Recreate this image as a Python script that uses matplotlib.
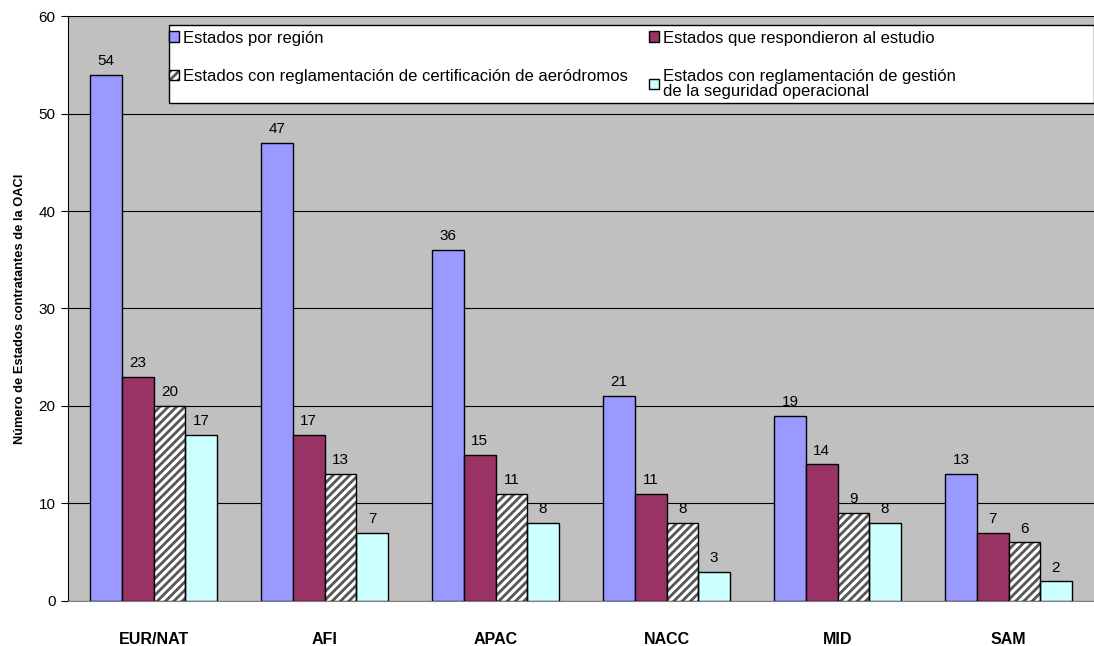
import matplotlib
matplotlib.use('Agg')
import matplotlib.pyplot as plt
from matplotlib.patches import Rectangle
import numpy as np

# ---------- datos ----------
regiones = ['EUR/NAT', 'AFI', 'APAC', 'NACC', 'MID', 'SAM']
por_region = [54, 47, 36, 21, 19, 13]
respondieron = [23, 17, 15, 11, 14, 7]
cert_aerodromos = [20, 13, 11, 8, 9, 6]
gestion_seguridad = [17, 7, 8, 3, 8, 2]

series_nombres = [
    'Estados por región',
    'Estados que respondieron al estudio',
    'Estados con reglamentación de certificación de aeródromos',
    'Estados con reglamentación de gestión\nde la seguridad operacional',
]
colores = ['#9999FF', '#993366', 'white', '#CCFFFF']

plt.rcParams['font.family'] = ['Liberation Sans', 'DejaVu Sans']
plt.rcParams['hatch.linewidth'] = 2.0

fig = plt.figure(figsize=(10.94, 6.46), dpi=100)
ax = fig.add_axes([0.0622, 0.0697, 0.9378, 0.9055])
ax.set_facecolor('#C0C0C0')

x = np.arange(len(regiones))
ancho = 0.185
datos = [por_region, respondieron, cert_aerodromos, gestion_seguridad]
handles = []
for i, vals in enumerate(datos):
    pos = x + (i - 1.5) * ancho
    if i == 2:
        # rayado gris: se dibuja aparte y luego el contorno negro
        h = ax.bar(pos, vals, width=ancho, color='white', edgecolor='#555555',
                   linewidth=0, hatch='////', zorder=3)
        o = ax.bar(pos, vals, width=ancho, fill=False, edgecolor='black',
                   linewidth=1.0, zorder=3.1)
        handles.append((h[0], o[0]))
    else:
        b = ax.bar(pos, vals, width=ancho, color=colores[i], edgecolor='black',
                   linewidth=1.0, zorder=3)
        handles.append(b[0])
    for xp, v in zip(pos, vals):
        ax.annotate(str(v), (xp, v), xytext=(0, 5), textcoords='offset points',
                    ha='center', va='bottom', fontsize=11, zorder=4)

ax.set_xlim(-0.5, len(regiones) - 0.5)
ax.set_ylim(0, 60)
ax.set_yticks(range(0, 61, 10))
ax.yaxis.grid(True, color='black', linewidth=0.8, zorder=0)
ax.set_axisbelow(True)
ax.tick_params(axis='y', labelsize=11, length=5, direction='out', pad=4)
ax.set_xticks(x)
ax.set_xticklabels(regiones, fontsize=11.5, fontweight='bold')
ax.tick_params(axis='x', length=0, pad=22)
ax.set_ylabel('Número de Estados contratantes de la OACI', fontsize=9.3,
              fontweight='bold')
ax.yaxis.set_label_coords(-0.041, 0.5)

for lado in ['top', 'right']:
    ax.spines[lado].set_visible(False)
ax.spines['left'].set_color('black')
ax.spines['bottom'].set_color('#808080')

# marco de la leyenda
ax.add_patch(Rectangle((0.098, 0.851), 0.902, 0.134, transform=ax.transAxes,
                       facecolor='white', edgecolor='black', linewidth=1.0,
                       zorder=4.5, clip_on=False))

# leyenda: fila 1 = series 1 y 2, fila 2 = series 3 y 4
orden = [0, 2, 1, 3]
leg = ax.legend([handles[i] for i in orden], [series_nombres[i] for i in orden],
                loc='upper left', bbox_to_anchor=(0.0985, 0.975),
                ncol=2, fontsize=12, frameon=False, handlelength=0.6,
                handleheight=0.6, handletextpad=0.25, labelspacing=1.4,
                borderpad=0, borderaxespad=0, columnspacing=1.25)
leg.set_zorder(5)
for t in leg.get_texts():
    t.set_linespacing(1.0)

fig.savefig('out.png', dpi=100)
